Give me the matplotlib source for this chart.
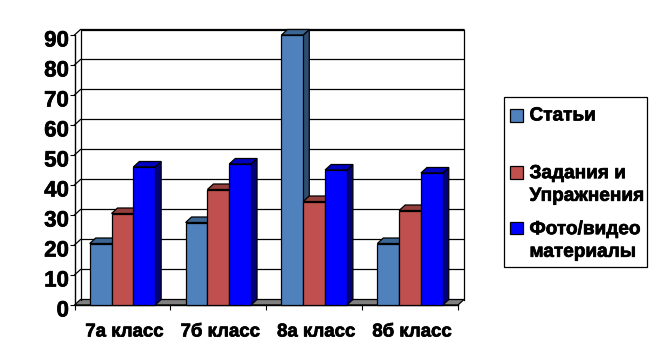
import matplotlib
matplotlib.use("Agg")
import matplotlib.pyplot as plt
import matplotlib.patheffects as pe
from matplotlib.patches import Polygon, Rectangle
from matplotlib.transforms import ScaledTranslation

categories = ["7а класс", "7б класс", "8а класс", "8б класс"]
stati = [20.5, 27.5, 90, 20.5]
zadaniya = [30.5, 38.5, 34.5, 31.5]
foto = [46, 47, 45, 44]
series_names = ["Статьи", "Задания и\nУпражнения", "Фото/видео\nматериалы"]
yticks = list(range(0, 100, 10))

W, H = 658, 364
FACE = ["#4F81BD", "#C0504D", "#0000FF"]
TOP = ["#3B6593", "#953F3D", "#0000C0"]
SIDE = ["#2F4D71", "#733030", "#000080"]

plt.rcParams["font.family"] = ["Liberation Sans", "DejaVu Sans"]
fig = plt.figure(figsize=(W / 100, H / 100), dpi=100)
L, R, T, B = 74.5, 458, 35, 305
ax = fig.add_axes([L / W, 1 - B / H, (R - L) / W, (B - T) / H])
ax.set_xlim(0, 4)
ax.set_ylim(0, 90)
ax.patch.set_visible(False)
for s in ["top", "right"]:
    ax.spines[s].set_visible(False)
for s in ["left", "bottom"]:
    ax.spines[s].set_linewidth(1)
    ax.spines[s].set_zorder(1.5)

dx = 6 / ((R - L) / 4)
dy = 5.5 / ((B - T) / 90)
lw = 0.9
kw = dict(clip_on=False, edgecolor="black", linewidth=lw, joinstyle="miter")
heavy = [pe.withStroke(linewidth=0.5, foreground="black")]

# walls and floor
ax.add_patch(Polygon([(0, 0), (4, 0), (4 + dx, dy), (dx, dy)], facecolor="#808080", zorder=1, **kw))
ax.plot([dx, dx, 4 + dx, 4 + dx], [dy, 90 + dy, 90 + dy, dy], color="black", lw=lw, clip_on=False, zorder=1)
for v in yticks[1:]:
    ax.plot([0, dx, 4 + dx], [v, v + dy, v + dy], color="black", lw=lw, clip_on=False, zorder=1,
            solid_joinstyle="miter")

# bars
w = 0.2275
z = 2.0
for i in range(len(categories)):
    for j, vals in enumerate([stati, zadaniya, foto]):
        x0 = i + 0.5 + (j - 1.5) * w
        x1 = x0 + w
        v = vals[i]
        ax.add_patch(Polygon([(x1, 0), (x1 + dx, dy), (x1 + dx, v + dy), (x1, v)],
                             facecolor=SIDE[j], zorder=z, **kw))
        ax.add_patch(Polygon([(x0, v), (x0 + dx, v + dy), (x1 + dx, v + dy), (x1, v)],
                             facecolor=TOP[j], zorder=z, **kw))
        ax.bar(x0, v, width=w, align="edge", color=FACE[j], edgecolor="black",
               linewidth=lw, zorder=z + 0.1, clip_on=False)
        z += 0.2

ax.set_yticks(yticks)
ax.set_yticklabels([str(v) for v in yticks], fontsize=16, fontweight="bold")
ax.set_xticks(range(5))
ax.set_xticklabels([])
ax.tick_params(axis="y", length=3.5, width=0.8, pad=0.5)
ax.tick_params(axis="x", length=3.5, width=0.8)
shift = ScaledTranslation(0, -3.5 / 100, fig.dpi_scale_trans)
for lab in ax.get_yticklabels():
    lab.set_transform(lab.get_transform() + shift)
    lab.set_path_effects(heavy)
for i, c in enumerate(categories):
    fig.text((L + (i + 0.5) * (R - L) / 4 + 2) / W, 1 - 332 / H, c, ha="center", va="center",
             fontsize=13.4, fontweight="bold", path_effects=heavy)

# legend
fig.add_artist(Rectangle((503.5 / W, 1 - 266.5 / H), 143.5 / W, 169.5 / H, transform=fig.transFigure,
                         facecolor="white", edgecolor="black", linewidth=0.9))
sw_top = [109.5, 166, 221.7]
txt_y = [116, 185, 241]
for name, col, sy, ty in zip(series_names, FACE, sw_top, txt_y):
    fig.add_artist(Rectangle((509.5 / W, 1 - (sy + 12.5) / H), 13 / W, 12.5 / H, transform=fig.transFigure,
                             facecolor=col, edgecolor="black", linewidth=0.9))
    fig.text(529.5 / W, 1 - ty / H, name, ha="left", va="center", fontsize=13.7, fontweight="bold",
             linespacing=1.43, path_effects=heavy)

fig.savefig("out.png", dpi=100)
